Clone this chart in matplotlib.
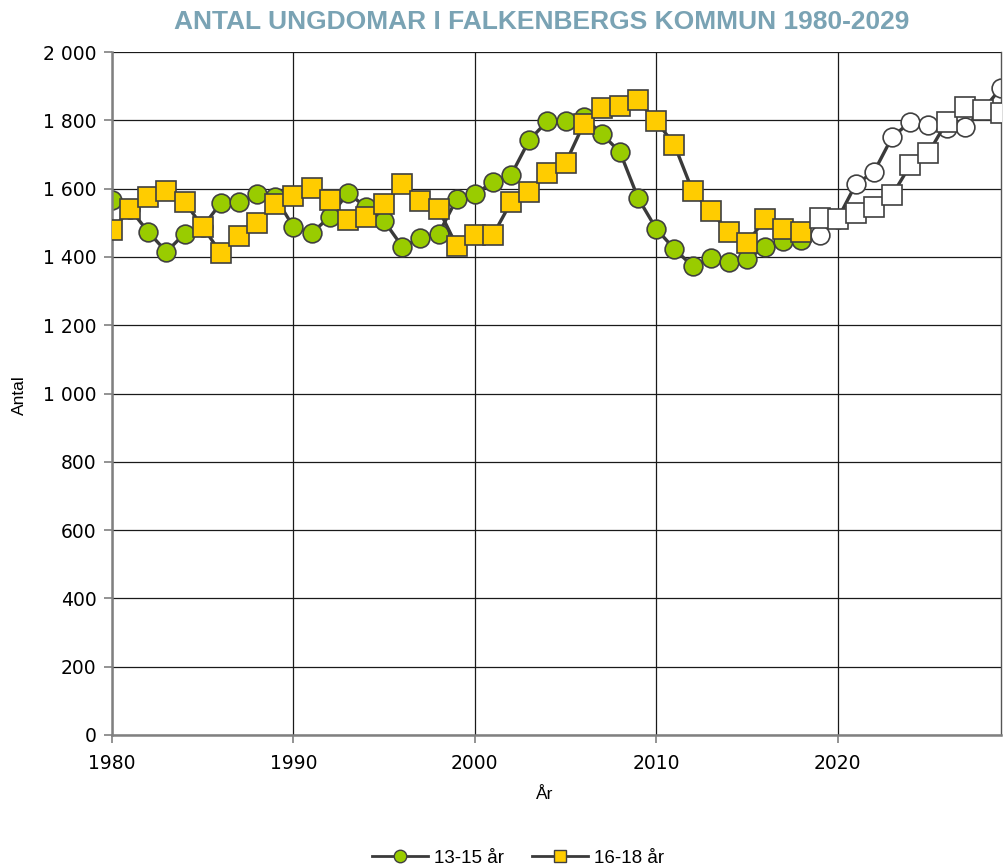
import matplotlib
matplotlib.use("Agg")
import matplotlib.pyplot as plt
from matplotlib.ticker import FuncFormatter, MultipleLocator
from matplotlib.lines import Line2D

years = list(range(1980, 2030))
age_13_15 = [1567, 1540, 1473, 1415, 1468, 1488, 1558, 1560, 1583, 1575,
             1488, 1470, 1517, 1587, 1546, 1505, 1430, 1455, 1467, 1570,
             1584, 1619, 1640, 1742, 1798, 1798, 1810, 1760, 1707, 1572,
             1482, 1423, 1373, 1396, 1386, 1393, 1430, 1446, 1449, 1464,
             1511, 1613, 1649, 1751, 1795, 1786, 1777, 1781, 1830, 1895]
age_16_18 = [1479, 1540, 1575, 1593, 1561, 1488, 1411, 1461, 1499, 1555,
             1578, 1602, 1567, 1508, 1517, 1555, 1613, 1564, 1540, 1432,
             1464, 1464, 1561, 1590, 1646, 1675, 1789, 1836, 1842, 1858,
             1798, 1728, 1593, 1534, 1473, 1441, 1511, 1481, 1473, 1514,
             1511, 1529, 1547, 1581, 1669, 1704, 1795, 1838, 1830, 1821]
forecast_start = 2019
series_labels = ["13-15 år", "16-18 år"]
title = "ANTAL UNGDOMAR I FALKENBERGS KOMMUN 1980-2029"

plt.rcParams['font.family'] = ['Liberation Sans', 'DejaVu Sans']

fig = plt.figure(figsize=(10.08, 8.68), dpi=100)
ax = fig.add_axes([112/1008, 1-735/868, (1001-112)/1008, (735-52)/868])

line_col = "#3a3a3a"
edge_col = "#404040"
split = years.index(forecast_start)

specs = [
    (age_13_15, "o", 13.5, "#99CC00", 2),
    (age_16_18, "s", 14.5, "#FFCC00", 3),
]
for vals, mk, ms, col, z in specs:
    ax.plot(years, vals, color=line_col, lw=2.4, zorder=z, solid_joinstyle='round')
    ax.plot(years[:split], vals[:split], ls="none", marker=mk, ms=ms,
            mfc=col, mec=edge_col, mew=1.2, zorder=z)
    ax.plot(years[split:], vals[split:], ls="none", marker=mk, ms=ms,
            mfc="white", mec=edge_col, mew=1.2, zorder=z)

ax.set_xlim(1980, 2029)
ax.set_ylim(0, 2000)
ax.xaxis.set_major_locator(MultipleLocator(10))
ax.yaxis.set_major_locator(MultipleLocator(200))
ax.yaxis.set_major_formatter(FuncFormatter(lambda v, p: f"{int(v):,}".replace(",", " ")))
ax.grid(True, color="#1a1a1a", lw=0.9, zorder=0)
ax.set_axisbelow(True)
ax.spines["top"].set_visible(False)
ax.spines["right"].set_color("#555555")
ax.spines["right"].set_linewidth(1.0)
for s in ["left", "bottom"]:
    ax.spines[s].set_color("#808080")
    ax.spines[s].set_linewidth(1.8)
ax.tick_params(axis="both", labelsize=13.5, color="#808080", length=6, width=1.2,
               pad=5)
for lab in ax.get_xticklabels() + ax.get_yticklabels():
    lab.set_family(["DejaVu Sans"])
ax.tick_params(axis="x", pad=8)

ax.set_xlabel("År", fontsize=12.5)
ax.set_ylabel("Antal", fontsize=12.5)
ax.xaxis.set_label_coords((545-112)/(1001-112), -(787-735)/(735-52))
ax.yaxis.set_label_coords(-(112-27)/(1001-112), (735-395)/(735-52))

fig.text(542/1008, 1-22/868, title, ha="center", va="center", fontsize=19,
         fontweight="bold", color="#7AA3B4")

handles = [
    Line2D([], [], color=line_col, lw=2, marker="o", ms=9, mfc="#99CC00", mec=edge_col),
    Line2D([], [], color=line_col, lw=2, marker="s", ms=9, mfc="#FFCC00", mec=edge_col),
]
fig.legend(handles, series_labels, loc="center", bbox_to_anchor=(518/1008, 1-858/868),
           ncol=2, frameon=False, fontsize=13.5, handlelength=3, columnspacing=1.5,
           handletextpad=0.3)

fig.savefig("out.png", dpi=100)
